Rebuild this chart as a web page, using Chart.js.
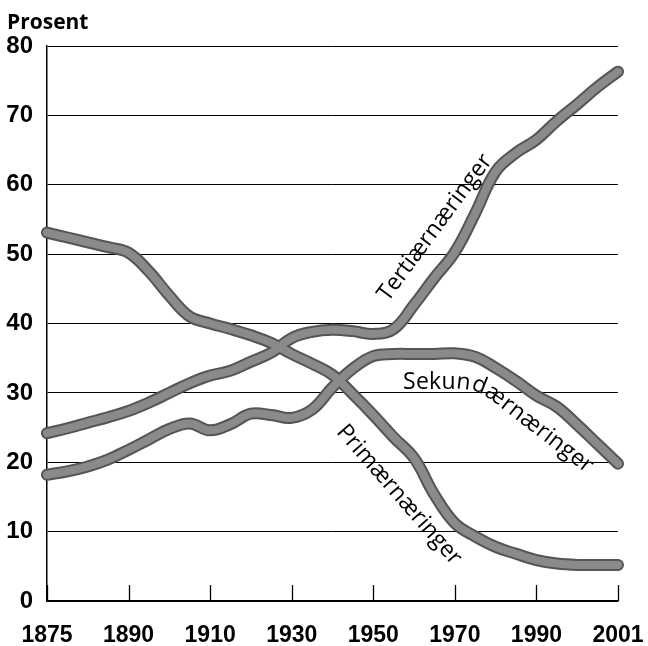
<!DOCTYPE html>
<html>
<head>
<meta charset="utf-8">
<script src="https://cdn.jsdelivr.net/npm/chart.js@4"></script>
<style>
  html, body { margin: 0; padding: 0; background: #fff; }
  canvas { display: block; }
</style>
</head>
<body>
<canvas id="c" width="648" height="646"></canvas>
<script>
// Category points (sub-steps between the labelled years, which are evenly spaced in the source)
const years = ['1875','1879','1883','1886','1890','1895','1900','1905','1910','1915','1920','1925','1930','1935','1940','1945','1950','1955','1960','1965','1970','1975','1980','1985','1990','1993','1995','1998','2001'];
const shownYears = ['1875','1890','1910','1930','1950','1970','1990','2001'];

const primaer   = [53.1,52.4,51.7,51.0,50.2,47.5,44.0,41.0,40.0,39.2,38.3,37.2,35.6,34.2,32.6,29.8,26.8,23.6,20.6,15.3,11.2,9.3,7.8,6.8,5.9,5.4,5.2,5.2,5.2];
const sekundaer = [18.2,18.7,19.4,20.4,21.8,23.3,24.8,25.6,24.6,25.5,27.0,26.8,26.4,27.6,30.8,33.5,35.3,35.6,35.6,35.6,35.7,35.2,33.6,31.7,29.6,28.0,25.4,22.6,19.8];
const tertiaer  = [24.2,24.9,25.7,26.5,27.4,28.6,30.0,31.4,32.5,33.2,34.5,35.8,37.9,38.8,39.1,38.9,38.5,39.2,42.7,46.6,50.3,55.9,61.9,64.6,66.5,69.2,71.6,74.1,76.3];

const seriesNames = ['Primærnæringer','Sekundærnæringer','Tertiærnæringer'];
const yTitle = 'Prosent';

// Annotation placement (category index, value)
const tertLabel = { k: 19.03, v: 53.8, angle: -53.5 };
const primLabel = { k: 17.26, v: 15.3, angle: 49 };
const sekPath = [[17.46,30.56],[20.50,30.56],[21.14,30.13],[21.73,29.12],[22.22,27.96],[26.73,17.73]];

const LABEL_FONT = '23px "Open Sans", "Noto Sans", sans-serif';
const TICK_FONT_FAMILY = '"Liberation Sans", Arial, sans-serif';

const outline = '#555555';
const fill = '#8a8a8a';

function mk(data, color, width, order) {
  return { data, borderColor: color, borderWidth: width, pointRadius: 0, tension: 0.4,
           borderCapStyle: 'round', borderJoinStyle: 'round', fill: false, order };
}

const annot = {
  id: 'annot',
  beforeDatasetsDraw(chart) {
    const { ctx, chartArea, scales: { x } } = chart;
    ctx.save();
    ctx.strokeStyle = '#000';
    ctx.lineWidth = 1.3;
    years.forEach((y, i) => {
      if (!shownYears.includes(y)) return;
      const px = Math.round(x.getPixelForValue(i)) + 0.5;
      ctx.beginPath();
      ctx.moveTo(px, chartArea.bottom);
      ctx.lineTo(px, chartArea.bottom - 16);
      ctx.stroke();
    });
    ctx.restore();
  },
  afterDraw(chart) {
    const { ctx, scales: { x, y } } = chart;
    ctx.save();
    ctx.fillStyle = '#000';
    // y title
    ctx.font = 'bold 21px "Open Sans", "Noto Sans", sans-serif';
    ctx.textAlign = 'left';
    ctx.textBaseline = 'alphabetic';
    ctx.fillText(yTitle, 7, 29);

    ctx.font = LABEL_FONT;
    function rot(text, L) {
      ctx.save();
      ctx.translate(x.getPixelForValue(L.k), y.getPixelForValue(L.v));
      ctx.rotate(L.angle * Math.PI / 180);
      ctx.textAlign = 'center';
      ctx.textBaseline = 'middle';
      ctx.fillText(text, 0, 0);
      ctx.restore();
    }
    rot(seriesNames[2], tertLabel);
    rot(seriesNames[0], primLabel);

    // text along path
    const pts = sekPath.map(p => [x.getPixelForValue(p[0]), y.getPixelForValue(p[1])]);
    const segs = [];
    let total = 0;
    for (let i = 0; i < pts.length - 1; i++) {
      const dx = pts[i+1][0] - pts[i][0], dy = pts[i+1][1] - pts[i][1];
      const len = Math.hypot(dx, dy);
      segs.push({ x0: pts[i][0], y0: pts[i][1], dx, dy, len, start: total });
      total += len;
    }
    function at(d) {
      let s = segs[segs.length - 1];
      for (const sg of segs) { if (d <= sg.start + sg.len) { s = sg; break; } }
      const t = (d - s.start) / s.len;
      return { px: s.x0 + s.dx * t, py: s.y0 + s.dy * t, a: Math.atan2(s.dy, s.dx) };
    }
    let d = 0;
    ctx.textAlign = 'center';
    ctx.textBaseline = 'alphabetic';
    for (const ch of seriesNames[1]) {
      const w = ctx.measureText(ch).width;
      const c = at(d + w / 2);
      const a1 = at(Math.max(0, d + w/2 - 6)).a, a2 = at(d + w/2 + 6).a;
      ctx.save();
      ctx.translate(c.px, c.py);
      ctx.rotate((a1 + a2) / 2);
      ctx.fillText(ch, 0, 0);
      ctx.restore();
      d += w * 1.02;
    }
    ctx.restore();
  }
};

new Chart(document.getElementById('c'), {
  type: 'line',
  data: {
    labels: years,
    datasets: [
      mk(primaer, outline, 12, 2), mk(sekundaer, outline, 12, 2), mk(tertiaer, outline, 12, 2),
      mk(primaer, fill, 8, 1), mk(sekundaer, fill, 8, 1), mk(tertiaer, fill, 8, 1)
    ]
  },
  options: {
    responsive: false,
    animation: false,
    devicePixelRatio: 1,
    layout: { padding: { top: 46, right: 30, left: 2, bottom: 0 } },
    plugins: { legend: { display: false }, tooltip: { enabled: false }, title: { display: false } },
    scales: {
      x: {
        type: 'category',
        offset: false,
        grid: { display: false, drawTicks: false },
        border: { display: true, color: '#000', width: 1.5 },
        ticks: {
          autoSkip: false, maxRotation: 0, minRotation: 0,
          color: '#000', padding: 21,
          font: { family: TICK_FONT_FAMILY, size: 23, weight: 'bold' },
          callback: (v, i) => shownYears.includes(years[i]) ? years[i] : ''
        },
        afterFit: s => { s.height = 45; s.paddingLeft = 0; s.paddingRight = 0; }
      },
      y: {
        min: 0, max: 80,
        grid: { color: '#000', lineWidth: 1, drawTicks: false },
        border: { display: true, color: '#000', width: 1.5 },
        ticks: {
          stepSize: 10, color: '#000', padding: 14,
          font: { family: TICK_FONT_FAMILY, size: 24, weight: 'bold' }
        },
        afterFit: s => { s.width = 45; s.paddingTop = 0; s.paddingBottom = 0; }
      }
    }
  },
  plugins: [annot]
});
</script>
</body>
</html>
